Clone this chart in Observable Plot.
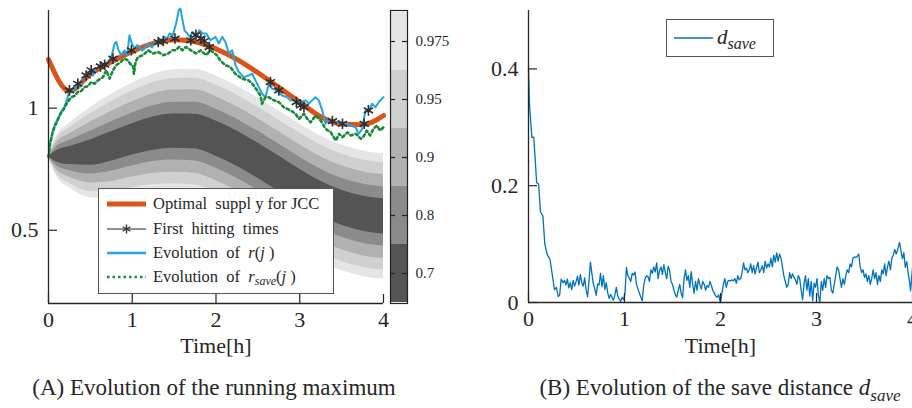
<!DOCTYPE html>
<html>
<head>
<meta charset="utf-8">
<script src="https://cdn.jsdelivr.net/npm/d3@7"></script>
<script src="https://cdn.jsdelivr.net/npm/@observablehq/plot@0.6"></script>
<style>
  body { margin: 0; background: #fff; }
  #root { position: relative; width: 912px; height: 408px; overflow: hidden; background: #fff;
          font-family: "Liberation Serif", "Times New Roman", serif; color: #262626; }
  #root svg text { font-family: "Liberation Serif", "Times New Roman", serif; font-variant: normal; }
  .abs { position: absolute; }
  .legend { position: absolute; background: #fff; border: 1px solid #555; box-sizing: border-box; }
  .row { position: absolute; left: 0; height: 24px; width: 100%; }
  .row svg { position: absolute; left: 8px; top: 0; }
  .row span.t { position: absolute; left: 54px; top: 0; line-height: 24px; font-size: 16.5px; white-space: pre; }
  .cap { position: absolute; text-align: center; font-size: 23px; line-height: 23px; white-space: pre; }
</style>
</head>
<body>
<div id="root">
  <div id="left" class="abs" style="left:0;top:0;width:460px;height:366px"></div>
  <div id="cbar" class="abs" style="left:390px;top:0;width:70px;height:313px"></div>
  <div id="right" class="abs" style="left:460px;top:0;width:452px;height:366px"></div>

  <div class="legend" style="left:98px;top:188px;width:236px;height:106px">
    <div class="row" style="top:3px">
      <svg width="39" height="24"><line x1="0" y1="12" x2="39" y2="12" stroke="#d95319" stroke-width="5"/></svg>
      <span class="t">Optimal  suppl y for JCC</span>
    </div>
    <div class="row" style="top:27.5px">
      <svg width="39" height="24"><line x1="0" y1="12" x2="39" y2="12" stroke="#222" stroke-width="1"/>
        <path d="M19.5,7.5V16.5M15.6,9.75L23.4,14.25M15.6,14.25L23.4,9.75" stroke="#333" stroke-width="1.4" fill="none"/></svg>
      <span class="t">First  hitting  times</span>
    </div>
    <div class="row" style="top:51.5px">
      <svg width="39" height="24"><line x1="0" y1="12" x2="39" y2="12" stroke="#27a3de" stroke-width="2.5"/></svg>
      <span class="t">Evolution  of  <i>r</i>(<i>j</i> )</span>
    </div>
    <div class="row" style="top:76px">
      <svg width="39" height="24"><line x1="0" y1="12" x2="39" y2="12" stroke="#168a3b" stroke-width="2.6" stroke-dasharray="2.5 3"/></svg>
      <span class="t">Evolution  of  <i>r</i><i style="font-size:12px;vertical-align:-3px;line-height:0">save</i>(<i>j</i> )</span>
    </div>
  </div>

  <div class="legend" style="left:666px;top:19px;width:108px;height:38px">
    <svg class="abs" style="left:7px;top:0" width="39" height="36"><line x1="0" y1="18" x2="39" y2="18" stroke="#0072bd" stroke-width="1.4"/></svg>
    <span class="abs" style="left:50px;top:5px;line-height:24px;font-size:21px;white-space:pre"><i>d</i><i style="font-size:16px;vertical-align:-5px;line-height:0">save</i></span>
  </div>

  <div class="cap" style="left:0;top:376px;width:428px">(A) Evolution of the running maximum</div>
  <div class="cap" style="left:520px;top:376px;width:400px">(B) Evolution of the save distance <i>d</i><i style="font-size:17px;vertical-align:-6px;line-height:0">save</i></div>
</div>

<script>
// ---------- data ----------
const xTicks = [0, 1, 2, 3, 4];
const yTicksLeft = [0.5, 1];
const yTicksRight = [0, 0.2, 0.4];

// confidence levels (outer -> inner) and their grey shades
const levelNames = ["0.975", "0.95", "0.9", "0.8", "0.7"];
const levelColors = ["#e5e5e5", "#d0d0d0", "#b1b1b1", "#8b8b8b", "#545454"];

// shaded bands: centre curve and half widths for each level
const bandT      = [0, 0.1, 0.25, 0.5, 0.75, 1, 1.25, 1.5, 1.75, 2, 2.25, 2.5, 2.75, 3, 3.25, 3.5, 3.75, 4];
const bandCenter = [0.801, 0.803, 0.806, 0.818, 0.843, 0.872, 0.896, 0.906, 0.904, 0.875, 0.834, 0.785, 0.732, 0.678, 0.629, 0.592, 0.568, 0.557];
const half975 = [0, 0.085, 0.132, 0.185, 0.214, 0.230, 0.243, 0.251, 0.255, 0.257, 0.257, 0.257, 0.257, 0.257, 0.257, 0.257, 0.257, 0.257];
const half95  = [0, 0.073, 0.114, 0.159, 0.184, 0.198, 0.209, 0.216, 0.219, 0.220, 0.220, 0.220, 0.220, 0.220, 0.220, 0.220, 0.220, 0.220];
const half90  = [0, 0.057, 0.088, 0.124, 0.143, 0.154, 0.163, 0.168, 0.171, 0.172, 0.172, 0.172, 0.172, 0.172, 0.172, 0.172, 0.172, 0.172];
const half80  = [0, 0.040, 0.062, 0.087, 0.101, 0.108, 0.114, 0.118, 0.120, 0.121, 0.121, 0.121, 0.121, 0.121, 0.121, 0.121, 0.121, 0.121];
const half70  = [0, 0.024, 0.037, 0.052, 0.060, 0.064, 0.068, 0.070, 0.071, 0.072, 0.072, 0.072, 0.072, 0.072, 0.072, 0.072, 0.072, 0.072];

// optimal supply for JCC
const supplyT = [0, 0.25, 0.5, 0.75, 1, 1.25, 1.5, 1.75, 2, 2.25, 2.5, 2.75, 3, 3.25, 3.5, 3.75, 4];
const supplyV = [1.199, 1.07, 1.14, 1.19, 1.232, 1.265, 1.28, 1.272, 1.243, 1.20, 1.145, 1.085, 1.025, 0.965, 0.935, 0.932, 0.97];

// evolution of r(j)
const rT = [0, 0.02, 0.05, 0.08, 0.11, 0.15, 0.19, 0.22, 0.251, 0.29, 0.33, 0.37, 0.41, 0.45, 0.49, 0.53, 0.57, 0.61, 0.67, 0.71, 0.75, 0.79, 0.81, 0.836, 0.868, 0.907, 0.94, 0.967, 0.995, 1.027, 1.06, 1.087, 1.116, 1.146, 1.176, 1.206, 1.236, 1.265, 1.295, 1.325, 1.355, 1.385, 1.415, 1.445, 1.484, 1.524, 1.556, 1.576, 1.596, 1.624, 1.656, 1.687, 1.723, 1.763, 1.803, 1.843, 1.883, 1.922, 1.934, 1.994, 2.034, 2.074, 2.113, 2.153, 2.193, 2.233, 2.272, 2.332, 2.392, 2.432, 2.471, 2.511, 2.551, 2.591, 2.631, 2.67, 2.73, 2.79, 2.85, 2.889, 2.949, 3.009, 3.069, 3.108, 3.148, 3.188, 3.228, 3.268, 3.307, 3.347, 3.387, 3.427, 3.467, 3.506, 3.546, 3.606, 3.666, 3.705, 3.745, 3.785, 3.825, 3.865, 3.904, 3.944, 4.0];
const rV = [0.80, 0.86, 0.905, 0.935, 0.952, 0.985, 1.004, 1.035, 1.073, 1.066, 1.093, 1.086, 1.127, 1.134, 1.148, 1.134, 1.162, 1.169, 1.176, 1.189, 1.21, 1.265, 1.271, 1.237, 1.217, 1.237, 1.217, 1.299, 1.265, 1.244, 1.258, 1.251, 1.236, 1.244, 1.262, 1.258, 1.248, 1.271, 1.262, 1.278, 1.268, 1.292, 1.283, 1.306, 1.299, 1.347, 1.402, 1.408, 1.367, 1.319, 1.306, 1.292, 1.312, 1.292, 1.319, 1.306, 1.306, 1.285, 1.278, 1.292, 1.265, 1.292, 1.271, 1.224, 1.237, 1.176, 1.148, 1.127, 1.134, 1.141, 1.114, 1.086, 1.059, 1.045, 1.10, 1.08, 1.073, 1.052, 1.045, 1.032, 1.032, 1.025, 1.032, 1.018, 1.032, 1.045, 1.032, 0.991, 0.936, 0.956, 0.949, 0.936, 0.949, 0.929, 0.936, 0.929, 0.922, 0.895, 0.915, 0.991, 0.991, 1.018, 1.004, 1.025, 1.045];

// evolution of r_save(j)
const rsT = [0, 0.02, 0.05, 0.07, 0.1, 0.14, 0.18, 0.22, 0.27, 0.31, 0.35, 0.39, 0.43, 0.47, 0.51, 0.55, 0.59, 0.65, 0.69, 0.73, 0.77, 0.81, 0.86, 0.907, 0.947, 0.98, 1.007, 1.02, 1.04, 1.07, 1.13, 1.19, 1.25, 1.31, 1.37, 1.43, 1.48, 1.52, 1.56, 1.6, 1.64, 1.70, 1.76, 1.82, 1.88, 1.934, 2.01, 2.05, 2.11, 2.17, 2.23, 2.31, 2.39, 2.45, 2.49, 2.53, 2.55, 2.59, 2.63, 2.69, 2.75, 2.81, 2.89, 2.95, 2.99, 3.05, 3.09, 3.13, 3.19, 3.25, 3.31, 3.37, 3.43, 3.47, 3.51, 3.57, 3.61, 3.67, 3.73, 3.77, 3.80, 3.84, 3.88, 3.92, 3.96, 4.0];
const rsV = [0.80, 0.855, 0.90, 0.922, 0.945, 0.975, 0.995, 1.02, 1.045, 1.05, 1.066, 1.07, 1.086, 1.09, 1.107, 1.10, 1.114, 1.127, 1.155, 1.121, 1.155, 1.176, 1.189, 1.203, 1.196, 1.18, 1.176, 1.14, 1.19, 1.21, 1.217, 1.237, 1.224, 1.23, 1.217, 1.224, 1.237, 1.237, 1.251, 1.237, 1.251, 1.237, 1.224, 1.237, 1.217, 1.237, 1.217, 1.196, 1.176, 1.169, 1.141, 1.121, 1.114, 1.093, 1.073, 1.052, 1.018, 1.045, 1.045, 1.032, 1.025, 1.004, 0.991, 0.977, 0.956, 0.977, 0.956, 0.942, 0.97, 0.949, 0.915, 0.901, 0.867, 0.895, 0.881, 0.901, 0.888, 0.895, 0.874, 0.888, 0.908, 0.888, 0.915, 0.929, 0.908, 0.922];

// first hitting times
const hitT = [0.25, 0.35, 0.45, 0.51, 0.62, 0.67, 0.77, 0.99, 1.31, 1.37, 1.51, 1.70, 1.76, 1.82, 1.86, 1.92, 2.65, 2.75, 2.96, 3.01, 3.05, 3.39, 3.51, 3.77, 3.82];
const hitV = [1.073, 1.10, 1.134, 1.155, 1.171, 1.178, 1.203, 1.237, 1.271, 1.275, 1.285, 1.278, 1.30, 1.285, 1.275, 1.25, 1.107, 1.073, 1.025, 1.011, 1.004, 0.947, 0.936, 0.936, 0.991];

// save distance d_save
const dT = [0, 0.01, 0.035, 0.055, 0.085, 0.105, 0.125, 0.15, 0.17, 0.195, 0.225, 0.25, 0.27, 0.29, 0.31, 0.325, 0.34, 0.36, 0.375, 0.39, 0.405, 0.42, 0.435, 0.45, 0.465, 0.48, 0.495, 0.51, 0.525, 0.54, 0.555, 0.57, 0.585, 0.6, 0.615, 0.63, 0.645, 0.66, 0.675, 0.69, 0.705, 0.72, 0.735, 0.75, 0.765, 0.78, 0.795, 0.81, 0.825, 0.84, 0.855, 0.87, 0.885, 0.9, 0.915, 0.93, 0.945, 0.96, 0.975, 0.99, 1.005, 1.02, 1.035, 1.05, 1.065, 1.08, 1.095, 1.11, 1.125, 1.14, 1.155, 1.17, 1.185, 1.2, 1.215, 1.23, 1.245, 1.26, 1.275, 1.29, 1.305, 1.32, 1.335, 1.35, 1.365, 1.38, 1.395, 1.41, 1.425, 1.44, 1.455, 1.47, 1.485, 1.5, 1.515, 1.53, 1.545, 1.56, 1.575, 1.59, 1.605, 1.62, 1.635, 1.65, 1.665, 1.68, 1.695, 1.71, 1.725, 1.74, 1.755, 1.77, 1.785, 1.8, 1.815, 1.83, 1.845, 1.86, 1.875, 1.89, 1.905, 1.92, 1.935, 1.95, 1.965, 1.98, 2.0, 2.015, 2.03, 2.045, 2.06, 2.075, 2.09, 2.105, 2.12, 2.135, 2.15, 2.165, 2.18, 2.195, 2.21, 2.225, 2.24, 2.255, 2.27, 2.285, 2.3, 2.315, 2.33, 2.345, 2.36, 2.375, 2.39, 2.405, 2.42, 2.435, 2.45, 2.465, 2.48, 2.495, 2.51, 2.525, 2.54, 2.555, 2.57, 2.585, 2.6, 2.615, 2.63, 2.645, 2.66, 2.675, 2.69, 2.705, 2.72, 2.735, 2.75, 2.765, 2.78, 2.795, 2.81, 2.825, 2.84, 2.855, 2.87, 2.885, 2.9, 2.915, 2.93, 2.945, 2.96, 2.975, 2.99, 3.005, 3.02, 3.035, 3.05, 3.065, 3.08, 3.095, 3.11, 3.125, 3.14, 3.155, 3.17, 3.185, 3.2, 3.215, 3.23, 3.245, 3.26, 3.275, 3.29, 3.305, 3.32, 3.335, 3.35, 3.365, 3.38, 3.395, 3.41, 3.425, 3.44, 3.455, 3.47, 3.485, 3.5, 3.515, 3.53, 3.545, 3.56, 3.575, 3.59, 3.605, 3.62, 3.635, 3.65, 3.665, 3.68, 3.695, 3.71, 3.725, 3.74, 3.755, 3.77, 3.785, 3.8, 3.815, 3.83, 3.845, 3.865, 3.88, 3.895, 3.91, 3.925, 3.94, 3.955, 3.97, 3.98, 4.0];
const dV = [0.40, 0.34, 0.283, 0.283, 0.205, 0.203, 0.155, 0.148, 0.10, 0.082, 0.073, 0.045, 0.022, 0.026, 0.01, 0.013, 0.04, 0.034, 0.038, 0.03, 0.04, 0.025, 0.034, 0.022, 0.038, 0.028, 0.035, 0.045, 0.03, 0.048, 0.034, 0.028, 0.042, 0.022, 0.01, 0.036, 0.069, 0.05, 0.032, 0.024, 0.012, 0.032, 0.03, 0.05, 0.027, 0.046, 0.022, 0.034, 0.017, 0.007, 0.014, 0.009, 0.004, 0.013, 0.026, 0.011, 0.006, 0.002, 0.009, 0.005, 0.016, 0.06, 0.046, 0.042, 0.036, 0.05, 0.047, 0.052, 0.031, 0.023, 0.016, 0.009, 0.003, 0.03, 0.041, 0.046, 0.044, 0.036, 0.056, 0.05, 0.061, 0.052, 0.068, 0.041, 0.055, 0.061, 0.048, 0.065, 0.051, 0.041, 0.062, 0.055, 0.036, 0.031, 0.021, 0.013, 0.009, 0.021, 0.031, 0.016, 0.008, 0.04, 0.056, 0.038, 0.046, 0.026, 0.053, 0.031, 0.016, 0.036, 0.021, 0.041, 0.031, 0.023, 0.036, 0.031, 0.021, 0.029, 0.026, 0.036, 0.029, 0.021, 0.016, 0.011, 0.009, 0.013, 0.0, 0.016, 0.031, 0.041, 0.026, 0.036, 0.038, 0.037, 0.039, 0.037, 0.041, 0.033, 0.046, 0.039, 0.041, 0.051, 0.068, 0.056, 0.059, 0.051, 0.056, 0.066, 0.051, 0.063, 0.049, 0.059, 0.069, 0.051, 0.056, 0.063, 0.051, 0.071, 0.059, 0.066, 0.061, 0.076, 0.061, 0.081, 0.069, 0.085, 0.071, 0.083, 0.076, 0.061, 0.046, 0.036, 0.026, 0.031, 0.051, 0.041, 0.049, 0.043, 0.039, 0.031, 0.046, 0.041, 0.021, 0.005, 0.031, 0.046, 0.021, 0.041, 0.011, 0.036, 0.003, 0.033, 0.026, 0.041, 0.011, 0.0, 0.036, 0.021, 0.041, 0.026, 0.046, 0.041, 0.043, 0.021, 0.016, 0.031, 0.046, 0.061, 0.056, 0.041, 0.026, 0.041, 0.031, 0.046, 0.056, 0.051, 0.066, 0.061, 0.076, 0.078, 0.077, 0.079, 0.083, 0.061, 0.051, 0.056, 0.043, 0.049, 0.036, 0.046, 0.031, 0.041, 0.056, 0.041, 0.051, 0.031, 0.046, 0.036, 0.056, 0.049, 0.066, 0.046, 0.061, 0.071, 0.056, 0.076, 0.081, 0.091, 0.083, 0.09, 0.103, 0.088, 0.075, 0.085, 0.06, 0.07, 0.05, 0.035, 0.02, 0.06];

// ---------- build ----------
const axisColor = "#262626";
const serif = '"Liberation Serif", "Times New Roman", serif';
const baseStyle = {fontFamily: serif, fontSize: "22px", color: axisColor, background: "transparent", overflow: "visible"};
const fmt = d => String(d);
const halfWidths = [half975, half95, half90, half80, half70];
const bandRows = levelNames.flatMap((lv, k) => bandT.map((t, i) => ({
  t, level: lv, lo: bandCenter[i] - halfWidths[k][i], hi: bandCenter[i] + halfWidths[k][i]
})));
const zip = (a, b) => a.map((v, i) => ({t: v, v: b[i]}));

const L = {w: 460, h: 366, ml: 48, mr: 77, mt: 10, mb: 63};
const LpW = L.w - L.ml - L.mr, LpH = L.h - L.mt - L.mb;
const yDomL = [0.2, 1.4];

const left = Plot.plot({
  width: L.w, height: L.h, marginLeft: L.ml, marginRight: L.mr, marginTop: L.mt, marginBottom: L.mb,
  style: baseStyle,
  x: {domain: [0, 4]},
  y: {domain: yDomL},
  color: {domain: levelNames, range: levelColors},
  marks: [
    Plot.areaY(bandRows, {x: "t", y1: "lo", y2: "hi", z: "level", fill: "level", curve: "monotone-x"}),
    Plot.line(zip(supplyT, supplyV), {x: "t", y: "v", stroke: "#d95319", strokeWidth: 5, curve: "monotone-x"}),
    Plot.line(zip(rT, rV), {x: "t", y: "v", stroke: "#27a3de", strokeWidth: 2}),
    Plot.line(zip(rsT, rsV), {x: "t", y: "v", stroke: "#168a3b", strokeWidth: 2.6, strokeDasharray: "2.5 3"}),
    Plot.dot(zip(hitT, hitV), {x: "t", y: "v", symbol: "asterisk", r: 5, stroke: "#2e2e2e", strokeWidth: 1.6}),
    Plot.ruleX([0], {y1: yDomL[0], y2: yDomL[1], stroke: axisColor, strokeWidth: 1.3}),
    Plot.ruleY([yDomL[0]], {x1: 0, x2: 4, stroke: axisColor, strokeWidth: 1.3}),
    Plot.tickX(xTicks, {x: d => d, insetTop: LpH - 9, stroke: axisColor, strokeWidth: 1.2}),
    Plot.tickY(yTicksLeft, {y: d => d, insetRight: LpW - 9, stroke: axisColor, strokeWidth: 1.2}),
    Plot.axisX({ticks: xTicks, tickFormat: fmt, tickSize: 0, tickPadding: 8, label: null, fontFamily: serif, fontSize: 22}),
    Plot.axisY({ticks: yTicksLeft, tickFormat: fmt, tickSize: 0, tickPadding: 10, label: null, fontFamily: serif, fontSize: 22}),
    Plot.text(["Time[h]"], {frameAnchor: "bottom", dy: 49, fontSize: 22, fontFamily: serif})
  ]
});
document.getElementById("left").appendChild(left);

const cbar = Plot.plot({
  width: 70, height: 313, marginLeft: 0, marginRight: 53, marginTop: 10, marginBottom: 10,
  style: {...baseStyle, fontSize: "15px"},
  y: {type: "band", domain: levelNames, padding: 0, axis: null},
  color: {domain: levelNames, range: levelColors},
  marks: [
    Plot.cell(levelNames, {y: d => d, fill: d => d}),
    Plot.tickY(levelNames, {y: d => d, insetRight: 12, stroke: "#222", strokeWidth: 1.2}),
    Plot.tickY(levelNames, {y: d => d, insetLeft: 12, stroke: "#222", strokeWidth: 1.2}),
    Plot.frame({stroke: "#222", strokeWidth: 1.2}),
    Plot.axisY({anchor: "right", tickSize: 0, tickPadding: 8, label: null, fontFamily: serif, fontSize: 15})
  ]
});
document.getElementById("cbar").appendChild(cbar);

const R = {w: 452, h: 366, ml: 68, mr: 0, mt: 10, mb: 64};
const RpW = R.w - R.ml - R.mr, RpH = R.h - R.mt - R.mb;
const yDomR = [0, 0.5];
const right = Plot.plot({
  width: R.w, height: R.h, marginLeft: R.ml, marginRight: R.mr, marginTop: R.mt, marginBottom: R.mb,
  style: baseStyle,
  x: {domain: [0, 4]},
  y: {domain: yDomR},
  marks: [
    Plot.line(zip(dT, dV), {x: "t", y: "v", stroke: "#0072bd", strokeWidth: 1.3}),
    Plot.ruleX([0], {y1: yDomR[0], y2: yDomR[1], stroke: axisColor, strokeWidth: 1.3}),
    Plot.ruleY([0], {x1: 0, x2: 4, stroke: axisColor, strokeWidth: 1.3}),
    Plot.tickX(xTicks, {x: d => d, insetTop: RpH - 9, stroke: axisColor, strokeWidth: 1.2}),
    Plot.tickY(yTicksRight, {y: d => d, insetRight: RpW - 9, stroke: axisColor, strokeWidth: 1.2}),
    Plot.axisX({ticks: xTicks, tickFormat: fmt, tickSize: 0, tickPadding: 8, label: null, fontFamily: serif, fontSize: 22}),
    Plot.axisY({ticks: yTicksRight, tickFormat: fmt, tickSize: 0, tickPadding: 10, label: null, fontFamily: serif, fontSize: 22}),
    Plot.text(["Time[h]"], {frameAnchor: "bottom", dy: 50, fontSize: 22, fontFamily: serif})
  ]
});
document.getElementById("right").appendChild(right);
</script>
</body>
</html>
